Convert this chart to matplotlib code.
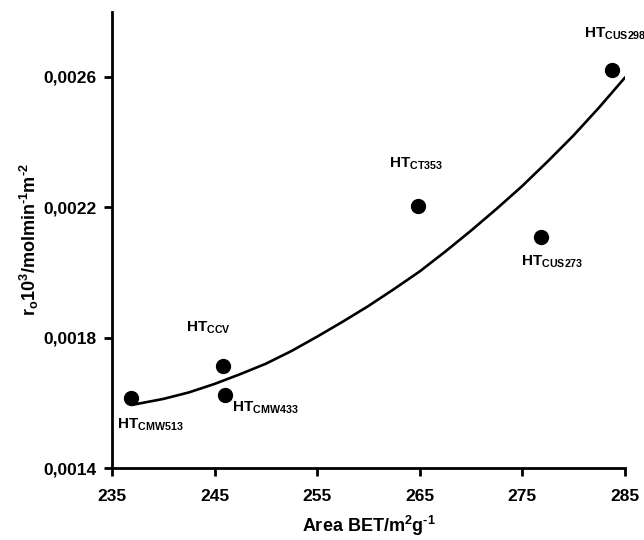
import matplotlib
matplotlib.use("Agg")
import matplotlib.pyplot as plt

plt.rcParams['font.family'] = 'Liberation Sans'
plt.rcParams['font.weight'] = 'bold'
plt.rcParams['axes.labelweight'] = 'bold'
plt.rcParams['mathtext.fontset'] = 'custom'
plt.rcParams['mathtext.rm'] = 'Liberation Sans:bold'
plt.rcParams['mathtext.it'] = 'Liberation Sans:bold'
plt.rcParams['mathtext.bf'] = 'Liberation Sans:bold'
plt.rcParams['mathtext.default'] = 'rm'

# measured samples
area = [236.8, 245.8, 246.0, 264.8, 276.8, 283.8]
rate = [0.001615, 0.001714, 0.001625, 0.002203, 0.002108, 0.002622]
names = ['CMW513', 'CCV', 'CMW433', 'CT353', 'CUS273', 'CUS298']
label_x = [235.5, 242.2, 246.7, 262.0, 274.9, 281.0]
label_y = [0.001532, 0.001831, 0.001585, 0.002332, 0.002034, 0.002732]

# trend line
fit_x = [237.0, 240.0, 242.5, 245.0, 247.5, 250.0, 252.5, 255.0, 257.5, 260.0,
         262.5, 265.0, 267.5, 270.0, 272.5, 275.0, 277.5, 280.0, 282.5, 285.0]
fit_y = [0.001594, 0.001612, 0.001632, 0.001658, 0.001688, 0.001720, 0.001759,
         0.001803, 0.001849, 0.001897, 0.001949, 0.002003, 0.002064, 0.002128,
         0.002195, 0.002265, 0.002341, 0.002420, 0.002506, 0.002597]

xticks = [235, 245, 255, 265, 275, 285]
yticks = [0.0014, 0.0018, 0.0022, 0.0026]
ytick_labels = ['0,0014', '0,0018', '0,0022', '0,0026']

fig = plt.figure(figsize=(6.44, 5.4), dpi=100)
ax = fig.add_axes([0.174, 0.1333, 0.796, 0.845])

ax.plot(fit_x, fit_y, color='black', lw=1.9, solid_joinstyle='round')
ax.plot(area, rate, 'o', color='black', ms=10)

for n, lx, ly in zip(names, label_x, label_y):
    ax.text(lx, ly, 'HT$_{' + n + '}$', fontsize=11, ha='left', va='center')

ax.set_xlim(235, 285)
ax.set_ylim(0.0014, 0.0028)
ax.set_xticks(xticks)
ax.set_xticklabels([str(t) for t in xticks])
ax.set_yticks(yticks)
ax.set_yticklabels(ytick_labels)
ax.tick_params(direction='out', length=6, width=2, labelsize=12.5)
ax.tick_params(axis='x', pad=9)
ax.tick_params(axis='y', pad=5)

for s in ['top', 'right']:
    ax.spines[s].set_visible(False)
for s in ['left', 'bottom']:
    ax.spines[s].set_linewidth(2)

ax.set_xlabel('Area BET/m$^{2}$g$^{\u20101}$', fontsize=13, labelpad=7)
ax.set_ylabel('r$_{o}$10$^{3}$/molmin$^{\u20101}$m$^{\u20102}$', fontsize=13, labelpad=2)

fig.savefig('out.png', dpi=100)
